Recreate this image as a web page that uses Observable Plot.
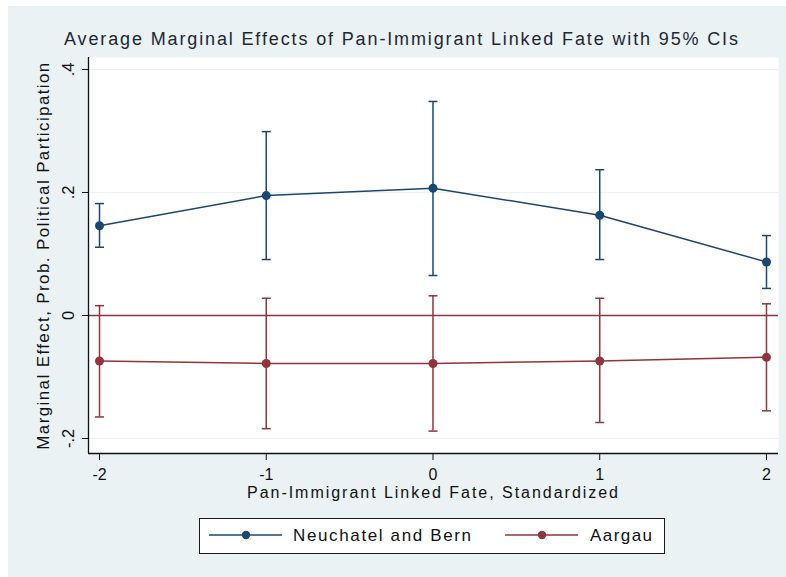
<!DOCTYPE html>
<html>
<head>
<meta charset="utf-8">
<script src="https://cdn.jsdelivr.net/npm/d3@7"></script>
<script src="https://cdn.jsdelivr.net/npm/@observablehq/plot@0.6"></script>
<style>
  body { margin: 0; background: #fff; }
  #page { position: relative; width: 786px; height: 577px; background: #fff; overflow: hidden;
          font-family: "Liberation Sans", Arial, sans-serif; color: #111; }
  #region { position: absolute; left: 8px; top: 6px; width: 778px; height: 571px; background: #eaf2f3; }
  #title { position: absolute; left: 64px; top: 30px; font-size: 18px; line-height: 18px;
           white-space: nowrap; color: #1d2733; }
  #chart { position: absolute; left: 8px; top: 50px; }
  #legend { position: absolute; left: 199px; top: 518px; width: 466px; height: 36px; box-sizing: border-box;
            background: #fff; border: 1.5px solid #1a1a1a; }
  #legend .sw { position: absolute; top: 10px; }
  #legend .lab { position: absolute; top: 8px; font-size: 17px; line-height: 17px; white-space: nowrap; }
</style>
</head>
<body>
<div id="page">
  <div id="region"></div>
  <div id="title"></div>
  <div id="chart"></div>
  <div id="legend"></div>
</div>
<script>
// Average marginal effects by level of pan-immigrant linked fate, with 95% CIs
const xVals = [-2, -1, 0, 1, 2];
const seriesNames = ["Neuchatel and Bern", "Aargau"];
const seriesColors = ["#1a476f", "#90353b"];

const nbEst = [0.146, 0.195, 0.207, 0.163, 0.087];
const nbLo  = [0.111, 0.091, 0.065, 0.091, 0.044];
const nbHi  = [0.182, 0.299, 0.348, 0.237, 0.130];

const agEst = [-0.074, -0.078, -0.078, -0.074, -0.068];
const agLo  = [-0.165, -0.184, -0.188, -0.174, -0.155];
const agHi  = [0.016, 0.028, 0.032, 0.028, 0.019];

const xTicks = [-2, -1, 0, 1, 2];
const xTickLabels = ["-2", "-1", "0", "1", "2"];
const yTicks = [-0.2, 0, 0.2, 0.4];
const yTickLabels = ["-.2", "0", ".2", ".4"];

const titleText = "Average Marginal Effects of Pan-Immigrant Linked Fate with 95% CIs";
const xTitle = "Pan-Immigrant Linked Fate, Standardized";
const yTitle = "Marginal Effect, Prob. Political Participation";

// long table for Plot
const rows = xVals.flatMap((x, i) => [
  {series: seriesNames[0], x, est: nbEst[i], lo: nbLo[i], hi: nbHi[i]},
  {series: seriesNames[1], x, est: agEst[i], lo: agLo[i], hi: agHi[i]}
]);

const xDomain = [-2.066, 2.072];
const yDomain = [-0.2244, 0.4195];

// horizontal cap for the CI whiskers; half-width equals the dot radius
const capSymbol = {
  draw(ctx, size) {
    const w = Math.sqrt(size / Math.PI);
    ctx.moveTo(-w, 0);
    ctx.lineTo(w, 0);
  }
};

const chart = Plot.plot({
  width: 778,
  height: 455,
  marginLeft: 80,
  marginRight: 8,
  marginTop: 7,
  marginBottom: 52,
  style: {background: "transparent", color: "#111", fontFamily: "'Liberation Sans', Arial, sans-serif", fontSize: "16.5px"},
  x: {domain: xDomain},
  y: {domain: yDomain},
  color: {domain: seriesNames, range: seriesColors},
  marks: [
    Plot.frame({fill: "white", stroke: "none"}),
    Plot.ruleY(yTicks, {stroke: "#eaf2f3", strokeWidth: 1.2}),
    Plot.ruleY([0], {stroke: seriesColors[1], strokeWidth: 1.6}),
    Plot.ruleX(rows, {x: "x", y1: "lo", y2: "hi", stroke: "series", strokeWidth: 1.5}),
    Plot.dot(rows, {x: "x", y: "lo", symbol: capSymbol, r: 4.5, fill: "none", stroke: "series", strokeWidth: 1.5}),
    Plot.dot(rows, {x: "x", y: "hi", symbol: capSymbol, r: 4.5, fill: "none", stroke: "series", strokeWidth: 1.5}),
    Plot.line(rows, {x: "x", y: "est", z: "series", stroke: "series", strokeWidth: 1.5}),
    Plot.dot(rows, {x: "x", y: "est", r: 4.5, fill: "series", stroke: "none"}),
    Plot.ruleX([xDomain[0]], {stroke: "#111", strokeWidth: 1.3}),
    Plot.ruleY([yDomain[0]], {stroke: "#111", strokeWidth: 1.3}),
    Plot.axisX({ticks: xTicks, tickSize: 7, tickPadding: 8, label: null, fontSize: 16,
      tickFormat: (d) => xTickLabels[xTicks.indexOf(d)]}),
    Plot.axisY({ticks: yTicks, tickSize: 6, tickRotate: -90, tickPadding: 9, label: null,
      tickFormat: (d) => yTickLabels[yTicks.indexOf(d)]}),
    Plot.text([yTitle], {text: (d) => d, frameAnchor: "left", textAnchor: "middle", rotate: -90, dx: -45, fontSize: 17}),
    Plot.text([xTitle], {text: (d) => d, frameAnchor: "bottom", textAnchor: "middle", dy: 44, fontSize: 16})
  ]
});
document.getElementById("chart").appendChild(chart);

// widen the axis titles with letter spacing so they span their full run
function spreadSvgText(node, target) {
  const n = node.textContent.length;
  const w = node.getComputedTextLength();
  node.style.letterSpacing = ((target - w) / Math.max(1, n - 1)) + "px";
}
d3.select(chart).selectAll("text").each(function () {
  const t = this.textContent;
  if (t === yTitle) spreadSvgText(this, 387);
  if (t === xTitle) spreadSvgText(this, 371);
});

function fitWidth(el, target) {
  const n = el.textContent.length;
  const w = el.getBoundingClientRect().width;
  el.style.letterSpacing = ((target - w) / Math.max(1, n - 1)) + "px";
}

// title
const title = document.getElementById("title");
title.textContent = titleText;
fitWidth(title, 674);

// legend: line-with-dot swatches and labels
const legend = document.getElementById("legend");
const legendLayout = [
  {swatch: 8.5, label: 93, width: 178},
  {swatch: 304.5, label: 390, width: 62}
];
seriesNames.forEach((name, i) => {
  const sw = d3.create("svg").attr("class", "sw").attr("width", 74).attr("height", 12)
    .style("left", legendLayout[i].swatch + "px");
  sw.append("line").attr("x1", 0).attr("x2", 73).attr("y1", 6).attr("y2", 6)
    .attr("stroke", seriesColors[i]).attr("stroke-width", 1.5);
  sw.append("circle").attr("cx", 37).attr("cy", 6).attr("r", 4.2).attr("fill", seriesColors[i]);
  legend.appendChild(sw.node());
  const lab = document.createElement("div");
  lab.className = "lab";
  lab.style.left = legendLayout[i].label + "px";
  lab.textContent = name;
  legend.appendChild(lab);
  fitWidth(lab, legendLayout[i].width);
});
</script>
</body>
</html>
